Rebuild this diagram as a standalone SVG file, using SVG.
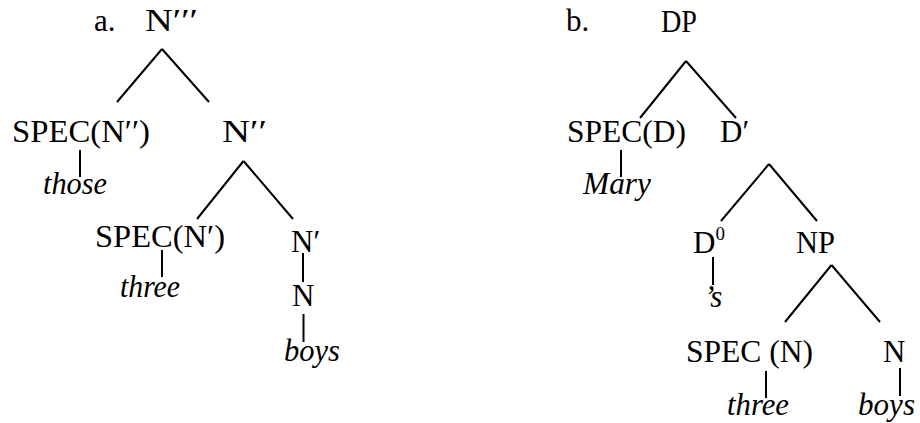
<svg xmlns="http://www.w3.org/2000/svg" width="920" height="423" viewBox="0 0 920 423">
<style>
text{font-family:"Liberation Serif","Times New Roman",serif;font-size:31px;fill:#000}
.i{font-style:italic}
.c line{stroke:#000;stroke-width:2;stroke-linecap:butt}
</style>
<rect width="920" height="423" fill="#fff"/>
<g class="c" id="connectors">
<line x1="162" y1="49" x2="117" y2="102"/>
<line x1="162" y1="49" x2="209" y2="102"/>
<line x1="80" y1="150" x2="80" y2="177"/>
<line x1="243.5" y1="161" x2="197" y2="219"/>
<line x1="243.5" y1="161" x2="293" y2="219"/>
<line x1="162" y1="250" x2="162" y2="277"/>
<line x1="303" y1="253" x2="303" y2="282"/>
<line x1="303.5" y1="314" x2="303.5" y2="342"/>
<line x1="686" y1="61" x2="640" y2="118"/>
<line x1="686" y1="61" x2="736" y2="118"/>
<line x1="621" y1="150" x2="621" y2="177"/>
<line x1="769" y1="164" x2="721" y2="221"/>
<line x1="769" y1="164" x2="817" y2="221"/>
<line x1="713" y1="257" x2="713" y2="285"/>
<line x1="831.5" y1="265" x2="785" y2="322"/>
<line x1="831.5" y1="265" x2="880" y2="322"/>
<line x1="766" y1="371" x2="766" y2="398"/>
<line x1="900" y1="368" x2="900" y2="396"/>
</g>
<g id="label-a"><text x="94" y="31">a.</text></g>
<g id="a-root"><text x="145" y="31" textLength="53" lengthAdjust="spacingAndGlyphs">N′′′</text></g>
<g id="a-spec1"><text x="12" y="142" textLength="138" lengthAdjust="spacingAndGlyphs">SPEC(N′′)</text></g>
<g id="a-those"><text class="i" x="43" y="194" textLength="64" lengthAdjust="spacingAndGlyphs">those</text></g>
<g id="a-nbar2"><text x="222" y="142" textLength="45" lengthAdjust="spacingAndGlyphs">N′′</text></g>
<g id="a-spec2"><text x="95" y="247" textLength="130" lengthAdjust="spacingAndGlyphs">SPEC(N′)</text></g>
<g id="a-three"><text class="i" x="120" y="297" textLength="60" lengthAdjust="spacingAndGlyphs">three</text></g>
<g id="a-nbar1"><text x="291" y="252">N′</text></g>
<g id="a-n"><text x="292" y="306">N</text></g>
<g id="a-boys"><text class="i" x="284" y="361" textLength="56" lengthAdjust="spacingAndGlyphs">boys</text></g>
<g id="label-b"><text x="566" y="31">b.</text></g>
<g id="b-dp"><text x="661" y="32" textLength="36" lengthAdjust="spacingAndGlyphs">DP</text></g>
<g id="b-specd"><text x="567" y="142" textLength="119" lengthAdjust="spacingAndGlyphs">SPEC(D)</text></g>
<g id="b-mary"><text class="i" x="583" y="194" textLength="68" lengthAdjust="spacingAndGlyphs">Mary</text></g>
<g id="b-dbar"><text x="720" y="142">D′</text></g>
<g id="b-d0"><text x="693" y="253">D<tspan dy="-13" font-size="19">0</tspan></text></g>
<g id="b-s"><text class="i" x="704" y="307">’s</text></g>
<g id="b-np"><text x="796" y="253" textLength="39" lengthAdjust="spacingAndGlyphs">NP</text></g>
<g id="b-specn"><text x="686" y="362" textLength="127" lengthAdjust="spacingAndGlyphs">SPEC (N)</text></g>
<g id="b-n"><text x="883" y="362">N</text></g>
<g id="b-three"><text class="i" x="727" y="415" textLength="62" lengthAdjust="spacingAndGlyphs">three</text></g>
<g id="b-boys"><text class="i" x="858" y="415" textLength="57" lengthAdjust="spacingAndGlyphs">boys</text></g>
</svg>
